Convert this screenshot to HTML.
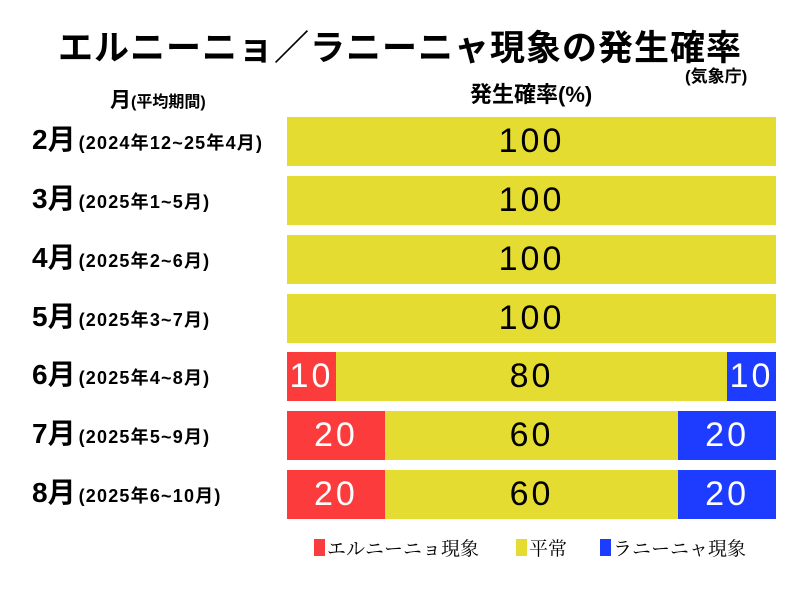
<!DOCTYPE html><html><head><meta charset="utf-8"><style>
body{margin:0;width:800px;height:600px;background:#fff;position:relative;overflow:hidden;font-family:"Liberation Sans","Noto Sans CJK JP",sans-serif}
.a{position:absolute;white-space:nowrap}
.t{left:0;width:800px;text-align:center;top:20px;font-size:35px;font-weight:bold;letter-spacing:1px}
.bar{position:absolute;left:287px;width:489px;height:49px;display:flex}
.bar div{height:100%;display:flex;align-items:center;justify-content:center;font-size:34px;letter-spacing:3px;font-family:"Liberation Sans",sans-serif;font-weight:normal}
.y{background:#e4dc30;color:#000}.r{background:#fc3c3c;color:#fff}.b{background:#1e3cff;color:#fff}
.lab{position:absolute;left:32px;font-weight:bold;font-size:28px;height:49px;line-height:49px}
.lab span{font-size:18px;letter-spacing:1.2px;margin-left:3px}
.lg{position:absolute;top:534px;font-size:19px;font-family:"Noto Serif CJK SC","Noto Sans CJK JP",serif;display:flex;align-items:center}
.lg i{display:inline-block;width:11px;height:17px;margin-right:2px}
</style></head><body>
<div class="a t">エルニーニョ／ラニーニャ現象の発生確率</div>
<div class="a" style="left:685px;top:62px;font-size:17px;font-weight:bold">(気象庁)</div>
<div class="a" style="left:110px;top:84px;font-size:21px;font-weight:bold">月<span style="font-size:16px">(平均期間)</span></div>
<div class="a" style="left:470px;top:77px;font-size:22px;font-weight:bold">発生確率(%)</div>
<div class="lab" style="top:115px">2月<span>(2024年12~25年4月)</span></div>
<div class="lab" style="top:174px">3月<span>(2025年1~5月)</span></div>
<div class="lab" style="top:233px">4月<span>(2025年2~6月)</span></div>
<div class="lab" style="top:292px">5月<span>(2025年3~7月)</span></div>
<div class="lab" style="top:350px">6月<span>(2025年4~8月)</span></div>
<div class="lab" style="top:409px">7月<span>(2025年5~9月)</span></div>
<div class="lab" style="top:468px">8月<span>(2025年6~10月)</span></div>
<div class="bar" style="top:117px"><div class="y" style="width:100%">100</div></div>
<div class="bar" style="top:176px"><div class="y" style="width:100%">100</div></div>
<div class="bar" style="top:235px"><div class="y" style="width:100%">100</div></div>
<div class="bar" style="top:294px"><div class="y" style="width:100%">100</div></div>
<div class="bar" style="top:352px"><div class="r" style="width:10%">10</div><div class="y" style="width:80%">80</div><div class="b" style="width:10%">10</div></div>
<div class="bar" style="top:411px"><div class="r" style="width:20%">20</div><div class="y" style="width:60%">60</div><div class="b" style="width:20%">20</div></div>
<div class="bar" style="top:470px"><div class="r" style="width:20%">20</div><div class="y" style="width:60%">60</div><div class="b" style="width:20%">20</div></div>
<div class="lg" style="left:314px"><i style="background:#fc3c3c"></i>エルニーニョ現象</div>
<div class="lg" style="left:516px"><i style="background:#e4dc30"></i>平常</div>
<div class="lg" style="left:600px"><i style="background:#1e3cff"></i>ラニーニャ現象</div>
</body></html>
